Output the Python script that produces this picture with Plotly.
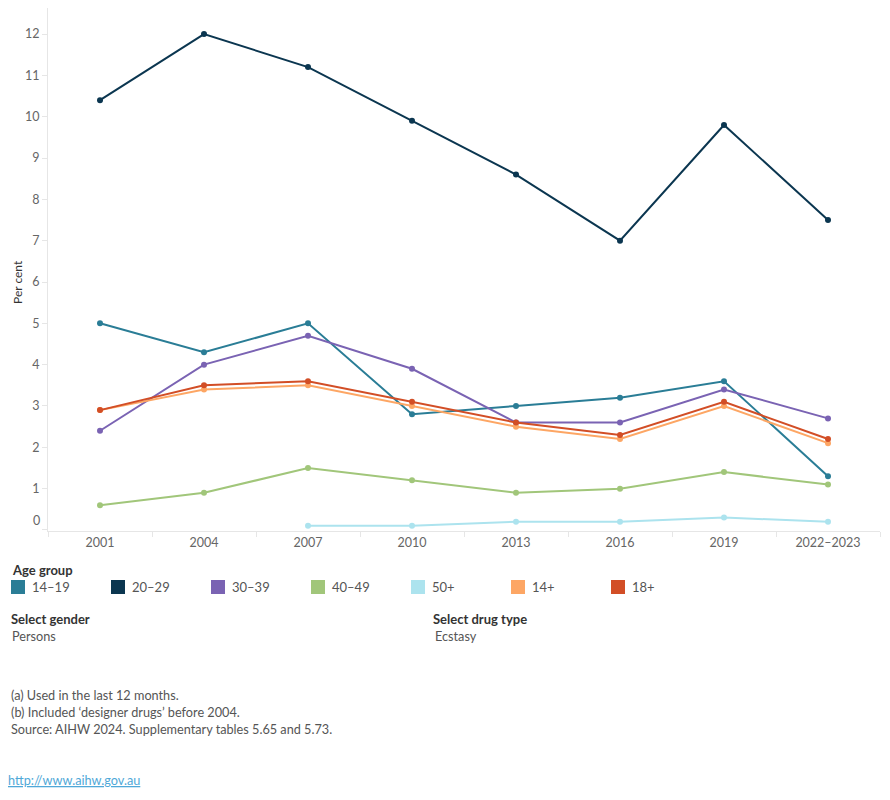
import plotly.graph_objects as go

years = ["2001", "2004", "2007", "2010", "2013", "2016", "2019", "2022–2023"]
groups = ["14–19", "20–29", "30–39", "40–49", "50+", "14+", "18+"]
colors = ["#2A7D96", "#0B3650", "#7A63B3", "#A1C67A", "#ACE3EE", "#FDA664", "#D24E26"]

v_14_19 = [5.0, 4.3, 5.0, 2.8, 3.0, 3.2, 3.6, 1.3]
v_20_29 = [10.4, 12.0, 11.2, 9.9, 8.6, 7.0, 9.8, 7.5]
v_30_39 = [2.4, 4.0, 4.7, 3.9, 2.6, 2.6, 3.4, 2.7]
v_40_49 = [0.6, 0.9, 1.5, 1.2, 0.9, 1.0, 1.4, 1.1]
v_50_plus = [None, None, 0.1, 0.1, 0.2, 0.2, 0.3, 0.2]
v_14_plus = [2.9, 3.4, 3.5, 3.0, 2.5, 2.2, 3.0, 2.1]
v_18_plus = [2.9, 3.5, 3.6, 3.1, 2.6, 2.3, 3.1, 2.2]
series = [v_14_19, v_20_29, v_30_39, v_40_49, v_50_plus, v_14_plus, v_18_plus]

y_ticks = list(range(0, 13))
y_ticktext = [""] + [str(v) for v in y_ticks[1:]]

FONT = "Lato"
W, H = 890, 800
ML, MR, MT, MB = 48, 10, 8, 269
PW, PH = W - ML - MR, H - MT - MB


def px(x):
    return (x - ML) / PW


def py(y):
    return (H - MB - y) / PH


fig = go.Figure()
for name, vals, col in zip(groups, series, colors):
    fig.add_trace(go.Scatter(
        x=years, y=vals, name=name, mode="lines+markers",
        line=dict(color=col, width=2), marker=dict(color=col, size=6),
        showlegend=False, connectgaps=False,
    ))

annotations = []
shapes = []

# "0" tick label, nudged up as in the original
annotations.append(dict(text=str(y_ticks[0]), x=px(42), y=y_ticks[0], xref="paper", yref="y",
                        xanchor="right", yanchor="middle", yshift=9, showarrow=False,
                        font=dict(family=FONT, size=12.5, color="#666666")))

# Legend title
annotations.append(dict(text="<b>Age group</b>", x=px(10), y=py(570), xref="paper", yref="paper",
                        xanchor="left", yanchor="middle", showarrow=False,
                        font=dict(family=FONT, size=13, color="#333333")))
for i, (name, col) in enumerate(zip(groups, colors)):
    x0 = 11 + 100 * i
    shapes.append(dict(type="rect", xref="paper", yref="paper",
                       x0=px(x0), x1=px(x0 + 14), y0=py(594), y1=py(580),
                       fillcolor=col, line=dict(width=0)))
    annotations.append(dict(text=name, x=px(x0 + 19), y=py(587), xref="paper", yref="paper",
                            xanchor="left", yanchor="middle", showarrow=False,
                            font=dict(family=FONT, size=13, color="#555555")))

# Filters
filt = [
    dict(text="<b>Select gender</b>", x=px(9), y=py(619), xanchor="left"),
    dict(text="Persons", x=px(10), y=py(636), xanchor="left"),
    dict(text="<b>Select drug type</b>", x=px(431), y=py(619), xanchor="left"),
    dict(text="Ecstasy", x=px(433), y=py(636), xanchor="left"),
]
for a in filt:
    a.update(xref="paper", yref="paper", yanchor="middle", showarrow=False,
             font=dict(family=FONT, size=13 if "<b>" in a["text"] else 12.7,
                       color="#333333" if "<b>" in a["text"] else "#555555"))
annotations += filt

notes = ["(a) Used in the last 12 months.",
         "(b) Included ‘designer drugs’ before 2004.",
         "Source: AIHW 2024. Supplementary tables 5.65 and 5.73."]
for i, t in enumerate(notes):
    annotations.append(dict(text=t, x=px(9), y=py(695 + 17 * i), xref="paper", yref="paper",
                            xanchor="left", yanchor="middle", showarrow=False,
                            font=dict(family=FONT, size=12.7, color="#555555")))
annotations.append(dict(text="<u>http://www.aihw.gov.au</u>", x=px(6), y=py(780), xref="paper", yref="paper",
                        xanchor="left", yanchor="middle", showarrow=False,
                        font=dict(family=FONT, size=12.7, color="#4FA8D8")))

# axis title
annotations.append(dict(text="Per cent", x=px(17), y=py(282), xref="paper", yref="paper",
                        textangle=-90, xanchor="center", yanchor="middle", showarrow=False,
                        font=dict(family=FONT, size=12, color="#333333")))

fig.update_layout(
    width=W, height=H, margin=dict(l=ML, r=MR, t=MT, b=MB),
    paper_bgcolor="white", plot_bgcolor="white",
    font=dict(family=FONT, size=12, color="#666666"),
    annotations=annotations, shapes=shapes,
    xaxis=dict(type="category", range=[-0.5, 7.5], tickson="boundaries", ticks="outside",
               ticklen=5, tickcolor="#E6E6E6", showgrid=False, showline=True,
               linecolor="#E6E6E6", linewidth=1, zeroline=False,
               tickfont=dict(family=FONT, size=12.5, color="#666666")),
    yaxis=dict(range=[-0.025, 12.63], tickvals=y_ticks, ticktext=y_ticktext, ticks="outside", ticklen=5,
               tickcolor="#E6E6E6", showgrid=False, showline=True, linecolor="#E6E6E6",
               linewidth=1, zeroline=False,
               tickfont=dict(family=FONT, size=12.5, color="#666666")),
)

fig.write_html("out.html")
